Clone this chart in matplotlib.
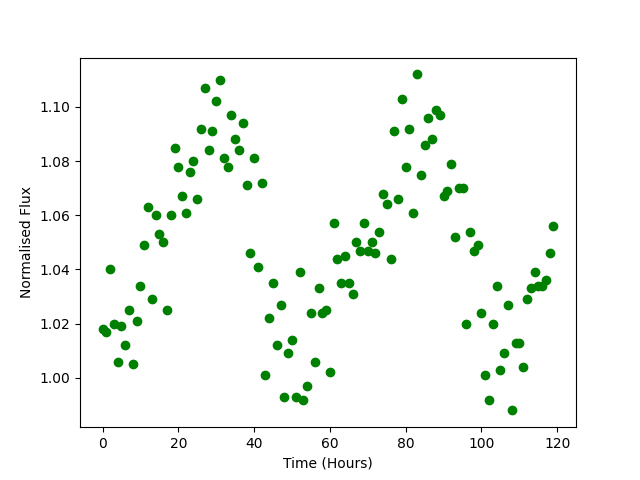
import numpy as np
import matplotlib
matplotlib.use('Agg')
import matplotlib.pyplot as plt

# hourly flux readings
time = np.arange(120)
flux = [1.018, 1.017, 1.040, 1.020, 1.006, 1.019, 1.012, 1.025, 1.005, 1.021,
        1.034, 1.049, 1.063, 1.029, 1.060, 1.053, 1.050, 1.025, 1.060, 1.085,
        1.078, 1.067, 1.061, 1.076, 1.080, 1.066, 1.092, 1.107, 1.084, 1.091,
        1.102, 1.110, 1.081, 1.078, 1.097, 1.088, 1.084, 1.094, 1.071, 1.046,
        1.081, 1.041, 1.072, 1.001, 1.022, 1.035, 1.012, 1.027, 0.993, 1.009,
        1.014, 0.993, 1.039, 0.992, 0.997, 1.024, 1.006, 1.033, 1.024, 1.025,
        1.002, 1.057, 1.044, 1.035, 1.045, 1.035, 1.031, 1.050, 1.047, 1.057,
        1.047, 1.050, 1.046, 1.054, 1.068, 1.064, 1.044, 1.091, 1.066, 1.103,
        1.078, 1.092, 1.061, 1.112, 1.075, 1.086, 1.096, 1.088, 1.099, 1.097,
        1.067, 1.069, 1.079, 1.052, 1.070, 1.070, 1.020, 1.054, 1.047, 1.049,
        1.024, 1.001, 0.992, 1.020, 1.034, 1.003, 1.009, 1.027, 0.988, 1.013,
        1.013, 1.004, 1.029, 1.033, 1.039, 1.034, 1.034, 1.036, 1.046, 1.056]

plt.figure(figsize=(6.4, 4.8), dpi=100)
plt.plot(time, flux, 'go')
plt.xlabel("Time (Hours)")
plt.ylabel("Normalised Flux")
plt.savefig('out.png')
